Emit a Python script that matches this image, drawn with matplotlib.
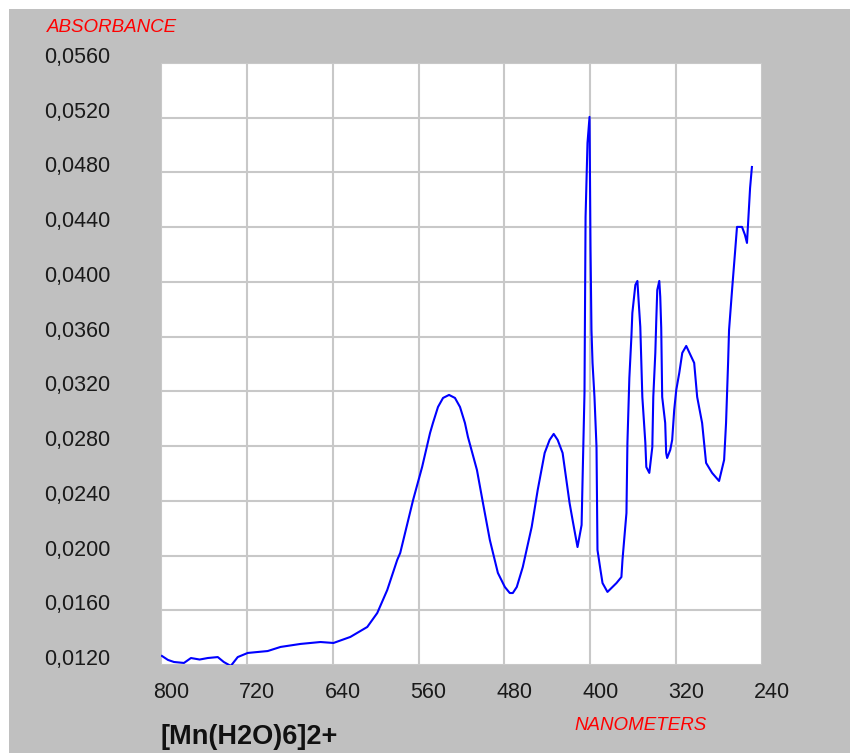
import matplotlib
matplotlib.use("Agg")
import matplotlib.pyplot as plt
import matplotlib.transforms as mtransforms
from matplotlib.patches import Rectangle

# ---- data ----
wavelength_nm = [799.1, 793.5, 787.9, 778.6, 772.1, 764.0, 756.4, 747.1, 741.5, 735.0,
                 728.5, 719.2, 710.0, 700.6, 688.6, 670.0, 651.4, 639.3, 623.6, 607.8,
                 598.5, 589.2, 579.9, 577.1, 565.1, 556.7, 549.3, 546.6, 541.9, 537.2,
                 531.6, 526.1, 521.4, 516.8, 514.0, 505.6, 500.0, 493.6, 486.1, 479.6,
                 475.0, 472.2, 468.5, 462.9, 454.6, 449.0, 442.5, 437.9, 434.1, 430.4,
                 425.8, 419.3, 416.5, 411.9, 408.1, 407.2, 405.4, 404.4,
                 402.6, 400.7, 399.8, 398.9, 397.9, 396.1, 394.2, 393.3, 390.5, 388.6,
                 384.0, 375.6, 371.0, 370.0, 368.2, 366.3, 365.4, 363.6, 361.7, 360.8,
                 358.0, 356.1, 355.2, 353.4, 351.5, 348.7, 347.8, 345.0, 342.2, 341.3,
                 339.4, 338.5, 337.6, 335.7, 334.8, 333.9, 333.0, 330.2, 329.3, 328.4,
                 325.5, 323.7, 321.8, 319.9, 317.1, 314.3, 310.6, 303.2, 300.4, 295.8,
                 292.1, 286.5, 280.0, 275.3, 273.5, 271.6, 270.7, 267.9, 265.1, 263.3,
                 258.6, 255.9, 254.0, 251.1, 249.4]
absorbance = [0.01266, 0.01237, 0.01222, 0.01215, 0.01251, 0.01240, 0.01251, 0.01258, 0.01222, 0.01193,
              0.01258, 0.01288, 0.01295, 0.01302, 0.01332, 0.01354, 0.01368, 0.01361, 0.01405, 0.01478,
              0.01580, 0.01748, 0.01968, 0.02019, 0.02406, 0.02647, 0.02896, 0.02969, 0.03086, 0.03152,
              0.03174, 0.03152, 0.03086, 0.02969, 0.02867, 0.02625, 0.02384, 0.02114, 0.01873, 0.01770,
              0.01726, 0.01726, 0.01770, 0.01916, 0.02209, 0.02479, 0.02750, 0.02845, 0.02889, 0.02845,
              0.02750, 0.02384, 0.02260, 0.02062, 0.02223, 0.02552, 0.03188, 0.04475,
              0.05016, 0.05206, 0.04248, 0.03649, 0.03407, 0.03159, 0.02793, 0.02041, 0.01894, 0.01799,
              0.01734, 0.01799, 0.01843, 0.01968, 0.02136, 0.02311, 0.02823, 0.03298, 0.03598, 0.03773,
              0.03978, 0.04007, 0.03890, 0.03671, 0.03159, 0.02823, 0.02647, 0.02604, 0.02793, 0.03159,
              0.03481, 0.03722, 0.03941, 0.04007, 0.03890, 0.03663, 0.03159, 0.02969, 0.02750, 0.02713,
              0.02772, 0.02845, 0.03064, 0.03210, 0.03334, 0.03481, 0.03532, 0.03408, 0.03159, 0.02969,
              0.02677, 0.02604, 0.02545, 0.02699, 0.02969, 0.03408, 0.03649, 0.03941, 0.04219, 0.04402,
              0.04402, 0.04344, 0.04285, 0.04687, 0.04840]

x_ticks = [800, 720, 640, 560, 480, 400, 320, 240]
y_ticks = [0.0120, 0.0160, 0.0200, 0.0240, 0.0280, 0.0320, 0.0360,
           0.0400, 0.0440, 0.0480, 0.0520, 0.0560]
y_tick_labels = ["0,0120", "0,0160", "0,0200", "0,0240", "0,0280", "0,0320", "0,0360",
                 "0,0400", "0,0440", "0,0480", "0,0520", "0,0560"]
title_text = "[Mn(H2O)6]2+"
y_label = "ABSORBANCE"
x_label = "NANOMETERS"

W, H, DPI = 850, 753, 100
fig = plt.figure(figsize=(W / DPI, H / DPI), dpi=DPI, facecolor="white")

# gray panel background
fig.patches.append(Rectangle((9 / W, 0), 1 - 9 / W, (H - 9) / H, transform=fig.transFigure,
                             facecolor="#C0C0C0", edgecolor="none", zorder=-10))

ax = fig.add_axes([161 / W, (H - 665) / H, 601 / W, 602 / H])
ax.set_facecolor("white")
ax.plot(wavelength_nm, absorbance, color="#0000FF", linewidth=1.5, zorder=3)

ax.set_xlim(800, 240)
ax.set_ylim(0.0120, 0.0560)
ax.set_xticks(x_ticks)
ax.set_xticklabels([str(v) for v in x_ticks])
ax.set_yticks(y_ticks)
ax.set_yticklabels(y_tick_labels)
ax.grid(True, color="#C8C8C8", linewidth=1.5, zorder=1)
ax.set_axisbelow(True)
for s in ax.spines.values():
    s.set_visible(False)

ax.tick_params(axis="both", length=0, colors="#1A1A1A")
ax.tick_params(axis="y", pad=36.5)
ax.tick_params(axis="x", pad=12)
for lab in ax.get_xticklabels():
    lab.set_fontfamily("Liberation Sans")
    lab.set_fontsize(15.5)
    lab.set_transform(lab.get_transform() + mtransforms.ScaledTranslation(10 / DPI, 0, fig.dpi_scale_trans))
for lab in ax.get_yticklabels():
    lab.set_fontfamily("Liberation Sans")
    lab.set_fontsize(15.5)
    lab.set_transform(lab.get_transform() + mtransforms.ScaledTranslation(0, 8 / DPI, fig.dpi_scale_trans))

fig.text(47 / W, 1 - 27 / H, y_label, color="#FF0000", fontstyle="italic",
         family="Liberation Sans", fontsize=13.5, ha="left", va="center")
fig.text(574 / W, 1 - 725 / H, x_label, color="#FF0000", fontstyle="italic",
         family="Liberation Sans", fontsize=13.5, ha="left", va="center")
fig.text(160 / W, 3 / H, title_text, color="#111111", fontweight="bold",
         family="Liberation Sans", fontsize=19.5, ha="left", va="bottom")

fig.savefig("out.png", dpi=DPI, facecolor="white")
